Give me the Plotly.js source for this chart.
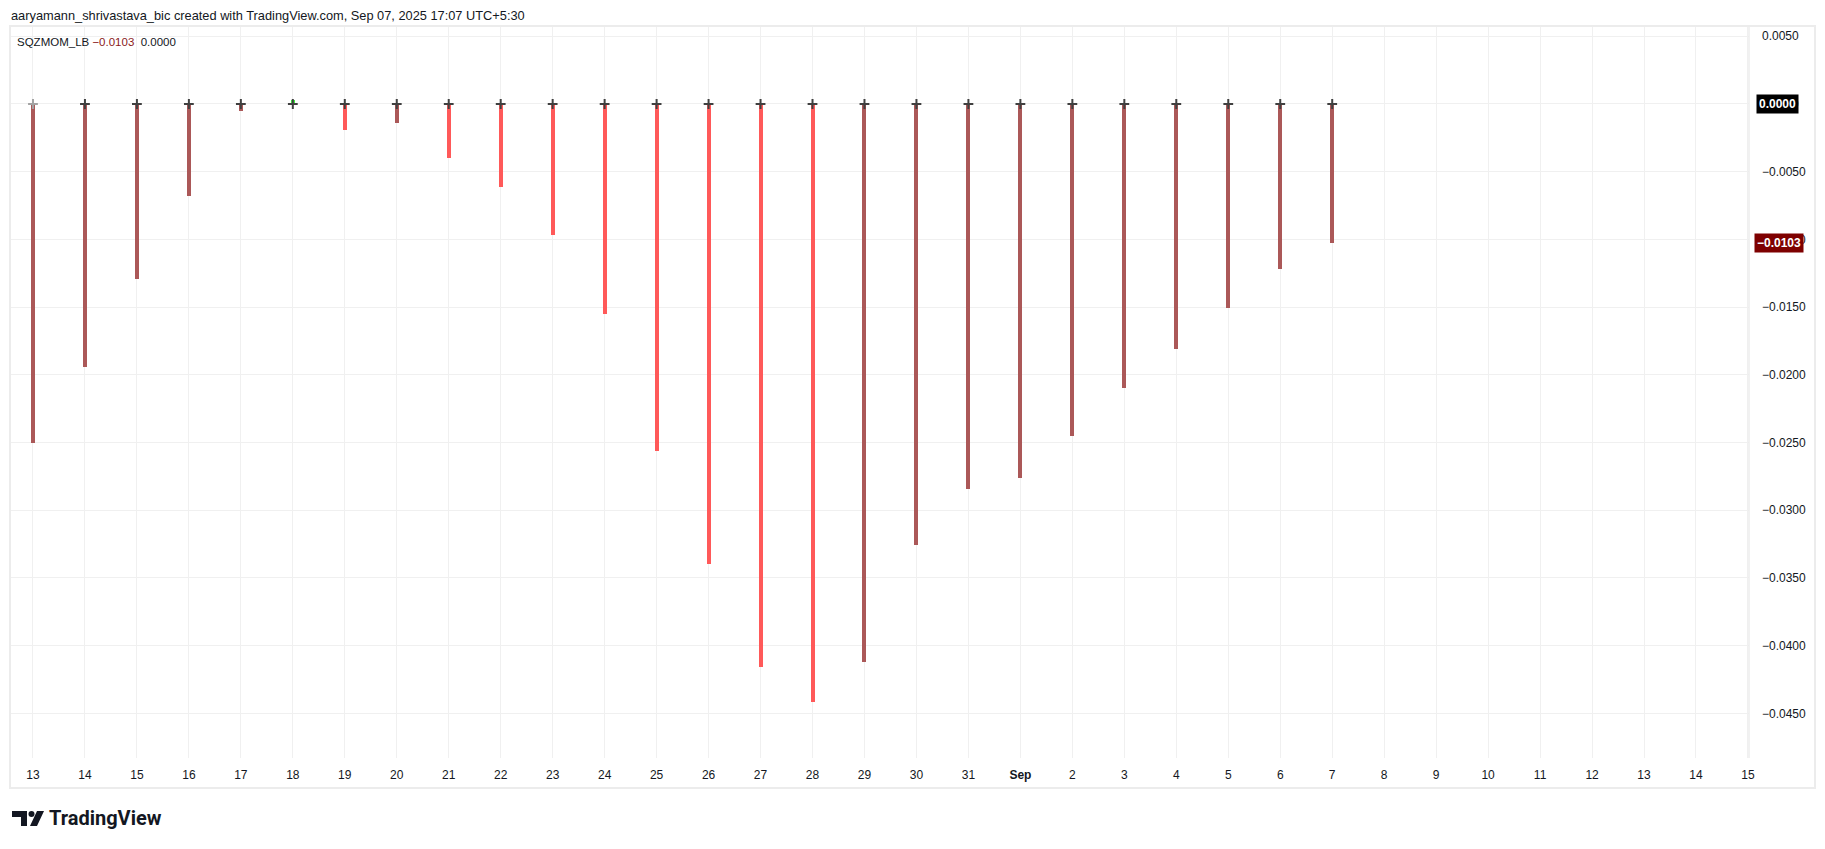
<!DOCTYPE html>
<html>
<head>
<meta charset="utf-8">
<script src="https://cdn.plot.ly/plotly-3.0.1.min.js"></script>
<style>
  html, body { margin: 0; padding: 0; background: #ffffff; }
  #chart { width: 1825px; height: 849px; position: absolute; left: 0; top: 0; }
  #logo { position: absolute; left: 10px; top: 804px; }
</style>
</head>
<body>
<div id="chart"></div>
<svg id="logo" width="170" height="34" viewBox="0 0 170 34">
  <path d="M2 7 H17 V22 H11 V13 H2 Z" fill="#131722"/>
  <circle cx="21.5" cy="10" r="3" fill="#131722"/>
  <path d="M27 7 H34 L27 22 H20 Z" fill="#131722"/>
  <text x="39" y="21" font-family="Roboto, 'Liberation Sans', sans-serif" font-weight="700" font-size="20" fill="#131722">TradingView</text>
</svg>
<script>
// ---- data ----
const dates = [
  "2025-08-13","2025-08-14","2025-08-15","2025-08-16","2025-08-17","2025-08-18","2025-08-19",
  "2025-08-20","2025-08-21","2025-08-22","2025-08-23","2025-08-24","2025-08-25","2025-08-26",
  "2025-08-27","2025-08-28","2025-08-29","2025-08-30","2025-08-31","2025-09-01","2025-09-02",
  "2025-09-03","2025-09-04","2025-09-05","2025-09-06","2025-09-07"
];
const futureDates = [
  "2025-09-08","2025-09-09","2025-09-10","2025-09-11","2025-09-12","2025-09-13","2025-09-14","2025-09-15"
];
const momentum = [
  -0.0250,-0.0194,-0.0129,-0.0068,-0.0005,0.0003,-0.0019,
  -0.0014,-0.0040,-0.0061,-0.0097,-0.0155,-0.0256,-0.0340,
  -0.0416,-0.0442,-0.0412,-0.0326,-0.0284,-0.0276,-0.0245,
  -0.0210,-0.0181,-0.0151,-0.0122,-0.0103
];
const squeeze = [
  "off","on","on","on","on","on","on","on","on","on","on","on","on",
  "on","on","on","on","on","on","on","on","on","on","on","on","on"
];
const tickLabels = [
  "13","14","15","16","17","18","19","20","21","22","23","24","25","26","27","28","29","30","31",
  "<b>Sep</b>","2","3","4","5","6","7","8","9","10","11","12","13","14","15"
];
const indicatorName = "SQZMOM_LB";
const lastValue = -0.0103;
const lastSignal = 0.0000;
const headerText = "aaryamann_shrivastava_bic created with TradingView.com, Sep 07, 2025 17:07 UTC+5:30";

// ---- derived ----
const allDates = dates.concat(futureDates);
const barColors = momentum.map((v, i) => {
  const prev = i > 0 ? momentum[i - 1] : null;
  const rising = prev === null ? true : v > prev;
  if (v >= 0) return rising ? "#3FEF3F" : "#1E8C1E";
  return rising ? "#AB5858" : "#FF5959";
});
const crossColors = squeeze.map(s => s === "on" ? "#404040" : "#a3a3a3");

// pixel helpers for plot area (10..1749 x 26..758)
const L = 10, R = 1749, T = 26, B = 758;
const px = x => (x - L) / (R - L);
const py = y => (B - y) / (B - T);

const fmt = v => (v < 0 ? "\u2212" : "") + Math.abs(v).toFixed(4);

const traces = [
  {
    type: "bar",
    x: dates,
    y: momentum,
    width: 0.077,
    marker: { color: barColors, line: { width: 0 } },
    hoverinfo: "x+y",
    showlegend: false
  },
  {
    type: "scatter",
    mode: "markers",
    x: dates,
    y: dates.map(() => 0),
    marker: { symbol: "cross-thin", size: 7, line: { width: 2, color: crossColors }, color: crossColors },
    cliponaxis: false,
    hoverinfo: "skip",
    showlegend: false
  }
];

const layout = {
  width: 1825,
  height: 849,
  autosize: false,
  paper_bgcolor: "#ffffff",
  plot_bgcolor: "#ffffff",
  margin: { l: L, r: 1825 - R, t: T, b: 849 - B, pad: 0 },
  showlegend: false,
  bargap: 0,
  font: { family: "'Liberation Sans', Arial, sans-serif", size: 12, color: "#131722" },
  xaxis: {
    type: "category",
    categoryorder: "array",
    categoryarray: allDates,
    range: [-0.442, 33.02],
    tickvals: allDates,
    ticktext: tickLabels,
    showgrid: true,
    gridcolor: "#f0f0f0",
    gridwidth: 1,
    zeroline: false,
    showline: false,
    ticks: "",
    ticklabelstandoff: 8,
    tickfont: { size: 12, color: "#131722" },
    fixedrange: true
  },
  yaxis: {
    side: "right",
    range: [-0.0483, 0.00576],
    tick0: 0,
    dtick: 0.005,
    tickformat: ".4f",
    showgrid: true,
    gridcolor: "#f0f0f0",
    gridwidth: 1,
    zeroline: false,
    showline: false,
    ticks: "",
    ticklabelstandoff: 12,
    tickfont: { size: 12, color: "#131722" },
    fixedrange: true
  },
  shapes: [
    { type: "rect", xref: "paper", yref: "paper", x0: 0, x1: px(1815), y0: py(788), y1: 1,
      line: { color: "#ececec", width: 2 }, fillcolor: "rgba(0,0,0,0)", layer: "above" },
    { type: "line", xref: "paper", yref: "paper", x0: 1, x1: 1, y0: 0, y1: 1,
      line: { color: "#ececec", width: 1.5 }, layer: "above" }
  ],
  annotations: [
    { xref: "paper", yref: "paper", x: px(9), y: py(15), xanchor: "left", yanchor: "middle",
      text: headerText, showarrow: false, font: { size: 12.8, color: "#131722" } },
    { xref: "paper", yref: "paper", x: px(15), y: py(42), xanchor: "left", yanchor: "middle",
      text: indicatorName + " <span style='color:#8B1A1A'>" + fmt(lastValue) + "</span>  " + fmt(lastSignal),
      showarrow: false, font: { size: 11.5, color: "#131722" } },
    { xref: "paper", yref: "y", x: px(1756), y: lastSignal, xanchor: "left", yanchor: "middle",
      text: "<b>" + fmt(lastSignal) + "</b>", showarrow: false, bgcolor: "#000000", borderpad: 2,
      font: { size: 12, color: "#ffffff" } },
    { xref: "paper", yref: "y", x: px(1754), y: lastValue, xanchor: "left", yanchor: "middle",
      text: "<b>" + fmt(lastValue) + "</b>", showarrow: false, bgcolor: "#7E0000", borderpad: 2,
      font: { size: 12, color: "#ffffff" } }
  ]
};

Plotly.newPlot("chart", traces, layout, { displayModeBar: false, staticPlot: true });
</script>
</body>
</html>
